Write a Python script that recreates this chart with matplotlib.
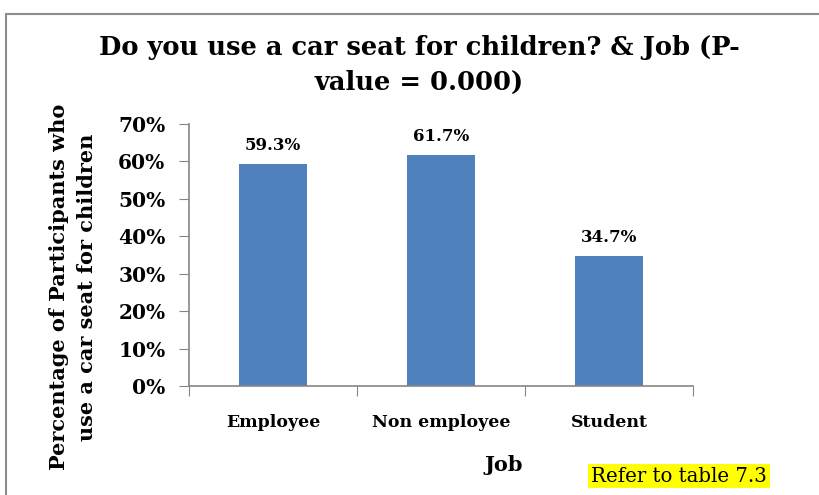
import matplotlib
matplotlib.use("Agg")
import matplotlib.pyplot as plt
from matplotlib.patches import Rectangle

categories = ["Employee", "Non employee", "Student"]
values = [59.3, 61.7, 34.7]
yticks = [0, 10, 20, 30, 40, 50, 60, 70]

W, H = 820, 495
fig = plt.figure(figsize=(W / 100, H / 100), dpi=100)
fig.patch.set_facecolor("white")

serif = ["DejaVu Serif"]

# outer frame
fig.patches.append(Rectangle((6 / W, -0.1), 1.2, 1 - 14 / H + 0.1, transform=fig.transFigure,
                             fill=False, edgecolor="#8c8c8c", linewidth=1.5))

ax = fig.add_axes([189 / W, 1 - 386 / H, (693 - 189) / W, (386 - 124) / H])
x = list(range(len(categories)))
bars = ax.bar(x, values, width=0.4, color="#4F81BD")
ax.set_xlim(-0.5, 2.5)
ax.set_ylim(0, 70)
ax.set_yticks(yticks)
ax.set_yticklabels([f"{v}%" for v in yticks], fontfamily=serif, fontweight="bold", fontsize=14.5)
ax.set_xticks([-0.5, 0.5, 1.5, 2.5], minor=False)
ax.set_xticklabels([])
ax.set_xticks(x, minor=True)
ax.set_xticklabels(categories, minor=True, fontfamily=serif, fontweight="bold", fontsize=12.5)
ax.tick_params(axis="x", which="minor", length=0, pad=20)
ax.tick_params(axis="x", which="major", length=7, color="#868686", direction="out")
ax.tick_params(axis="y", length=7, color="#868686", direction="out", pad=10)
for s in ["top", "right"]:
    ax.spines[s].set_visible(False)
for s in ["left", "bottom"]:
    ax.spines[s].set_color("#868686")
    ax.spines[s].set_linewidth(1.2)

for xi, v in zip(x, values):
    ax.annotate(f"{v}%", (xi, v), xytext=(0, 7), textcoords="offset points", ha="center", va="bottom",
                fontfamily=serif, fontweight="bold", fontsize=12)

fig.text(419 / W, 1 - 65 / H, "Do you use a car seat for children? & Job (P-\nvalue = 0.000)",
         ha="center", va="center", fontfamily=serif, fontweight="bold", fontsize=18.5, linespacing=1.45)

fig.text(73 / W, 1 - 287 / H, "Percentage of Participants who\nuse a car seat for children", rotation=90,
         ha="center", va="center", fontfamily=serif, fontweight="bold", fontsize=15, linespacing=1.5)

fig.text(504 / W, 1 - 465 / H, "Job", ha="center", va="center", fontfamily=serif, fontweight="bold", fontsize=15)

fig.text(679 / W, 1 - 476 / H, "Refer to table 7.3", ha="center", va="center", fontfamily=serif, fontsize=14.2,
         bbox=dict(facecolor="#FFFF00", edgecolor="none", pad=2))

fig.savefig("out.png", dpi=100)
